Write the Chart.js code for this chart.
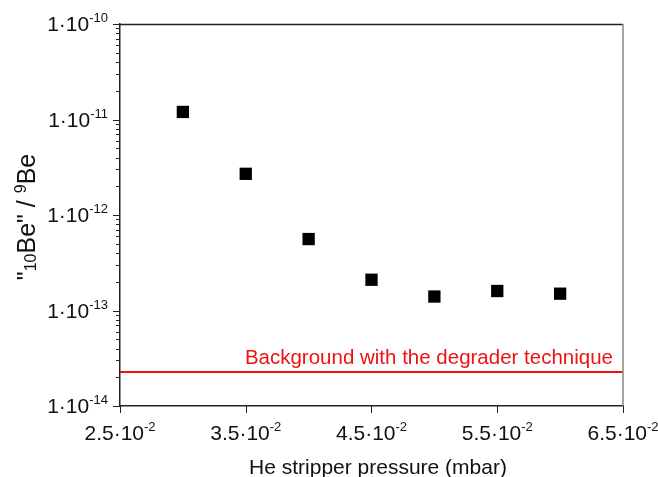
<!DOCTYPE html>
<html>
<head>
<meta charset="utf-8">
<script src="https://cdn.jsdelivr.net/npm/chart.js@4"></script>
<style>
  html, body { margin: 0; padding: 0; background: #fff; }
  #wrap { width: 658px; height: 477px; }
</style>
</head>
<body>
<div id="wrap"><canvas id="be_chart"></canvas></div>
<script>
// data
var pressure = [0.030, 0.035, 0.040, 0.045, 0.050, 0.055, 0.060];
var ratio = [1.2e-11, 2.7e-12, 5.6e-13, 2.1e-13, 1.4e-13, 1.6e-13, 1.5e-13];
var backgroundLevel = 2.27e-14;
var backgroundRange = [0.025, 0.065];

// tick labels
var xTicks = [0.025, 0.035, 0.045, 0.055, 0.065];
var xTickMantissa = ["2.5", "3.5", "4.5", "5.5", "6.5"];
var xTickExp = "-2";
var yTicks = [1e-14, 1e-13, 1e-12, 1e-11, 1e-10];
var yTickExp = ["-14", "-13", "-12", "-11", "-10"];

var FONT = "'Liberation Sans', Arial, sans-serif";

function font(size) { return size + "px " + FONT; }

// draws text in pieces (for sub/superscripts), returns width
function pieces(ctx, parts, x, y, measureOnly) {
  var w = 0;
  parts.forEach(function (p) {
    ctx.font = font(p.size);
    if (!measureOnly) ctx.fillText(p.t, x + w, y + (p.dy || 0));
    w += ctx.measureText(p.t).width;
  });
  return w;
}

var axesPlugin = {
  id: "axesPlugin",
  afterDraw: function (chart) {
    var ctx = chart.ctx;
    var a = chart.chartArea;
    var xs = chart.scales.x, ys = chart.scales.y;
    ctx.save();

    // frame top and right
    ctx.lineWidth = 1.5;
    ctx.strokeStyle = "#222";
    ctx.beginPath();
    ctx.moveTo(a.left, a.top + 0.5);
    ctx.lineTo(a.right, a.top + 0.5);
    ctx.stroke();
    ctx.strokeStyle = "#888";
    ctx.beginPath();
    ctx.moveTo(a.right, a.top);
    ctx.lineTo(a.right, a.bottom);
    ctx.stroke();

    // y ticks (major + minor)
    ctx.strokeStyle = "#222";
    ctx.lineWidth = 1;
    for (var i = 0; i < yTicks.length; i++) {
      var py = Math.round(ys.getPixelForValue(yTicks[i])) + 0.5;
      ctx.beginPath();
      ctx.moveTo(a.left - 7, py);
      ctx.lineTo(a.left, py);
      ctx.stroke();
      if (i < yTicks.length - 1) {
        for (var m = 2; m <= 9; m++) {
          var my = Math.round(ys.getPixelForValue(yTicks[i] * m)) + 0.5;
          ctx.beginPath();
          ctx.moveTo(a.left - 4, my);
          ctx.lineTo(a.left, my);
          ctx.stroke();
        }
      }
    }
    // x ticks
    for (var j = 0; j < xTicks.length; j++) {
      var px = Math.round(xs.getPixelForValue(xTicks[j])) + 0.5;
      ctx.beginPath();
      ctx.moveTo(px, a.bottom);
      ctx.lineTo(px, a.bottom + 7);
      ctx.stroke();
    }

    // tick labels
    ctx.fillStyle = "#111";
    ctx.textBaseline = "alphabetic";
    ctx.textAlign = "left";
    for (var k = 0; k < yTicks.length; k++) {
      var ty = ys.getPixelForValue(yTicks[k]) + 7;
      var parts = [{ t: "1\u00b710", size: 21 }, { t: yTickExp[k], size: 13, dy: -9 }];
      var w = pieces(ctx, parts, 0, 0, true);
      pieces(ctx, parts, a.left - 12 - w, ty);
    }
    for (var n = 0; n < xTicks.length; n++) {
      var tx = xs.getPixelForValue(xTicks[n]);
      var xp = [{ t: xTickMantissa[n] + "\u00b710", size: 21 }, { t: xTickExp, size: 13, dy: -9 }];
      var xw = pieces(ctx, xp, 0, 0, true);
      pieces(ctx, xp, tx - xw / 2, a.bottom + 34);
    }

    // x title
    ctx.font = font(21);
    ctx.textAlign = "center";
    ctx.fillText("He stripper pressure (mbar)", 378, 474);

    // y title, rotated
    ctx.textAlign = "left";
    var yt = [
      { t: "\"", size: 25 },
      { t: "10", size: 16, dy: 1 },
      { t: "Be\" / ", size: 25 },
      { t: "9", size: 16, dy: -9 },
      { t: "Be", size: 25 }
    ];
    var yw = pieces(ctx, yt, 0, 0, true);
    ctx.save();
    ctx.translate(35, (a.top + a.bottom) / 2 + 2);
    ctx.rotate(-Math.PI / 2);
    pieces(ctx, yt, -yw / 2, 0);
    ctx.restore();

    // background label
    ctx.fillStyle = "#ee1111";
    ctx.font = font(20.5);
    ctx.textAlign = "right";
    ctx.fillText("Background with the degrader technique",
      a.right - 10, ys.getPixelForValue(backgroundLevel) - 8);

    ctx.restore();
  }
};

var c1 = document.getElementById("be_chart").getContext("2d");

var be_chart = new Chart(c1, {
  type: "scatter",
  data: {
    datasets: [
      {
        label: "ratio",
        data: pressure.map(function (p, i) { return { x: p, y: ratio[i] }; }),
        pointStyle: "rect",
        pointRadius: 8.7,
        backgroundColor: "#000",
        borderColor: "#000",
        borderWidth: 0
      },
      {
        label: "background",
        type: "line",
        data: backgroundRange.map(function (p) { return { x: p, y: backgroundLevel }; }),
        borderColor: "#ee1111",
        borderWidth: 2,
        pointRadius: 0,
        fill: false
      }
    ]
  },
  options: {
    responsive: true,
    maintainAspectRatio: false,
    animation: false,
    layout: { padding: { top: 24, right: 35, left: 0, bottom: 0 } },
    plugins: {
      legend: { display: false },
      tooltip: { enabled: false }
    },
    scales: {
      x: {
        type: "linear",
        min: 0.025,
        max: 0.065,
        grid: { display: false },
        ticks: { display: false },
        border: { display: true, color: "#222", width: 1.5 },
        afterFit: function (s) { s.height = 71; }
      },
      y: {
        type: "logarithmic",
        min: 1e-14,
        max: 1e-10,
        grid: { display: false },
        ticks: { display: false },
        border: { display: true, color: "#222", width: 1.5 },
        afterFit: function (s) { s.width = 120; }
      }
    }
  },
  plugins: [axesPlugin]
});
</script>
</body>
</html>
